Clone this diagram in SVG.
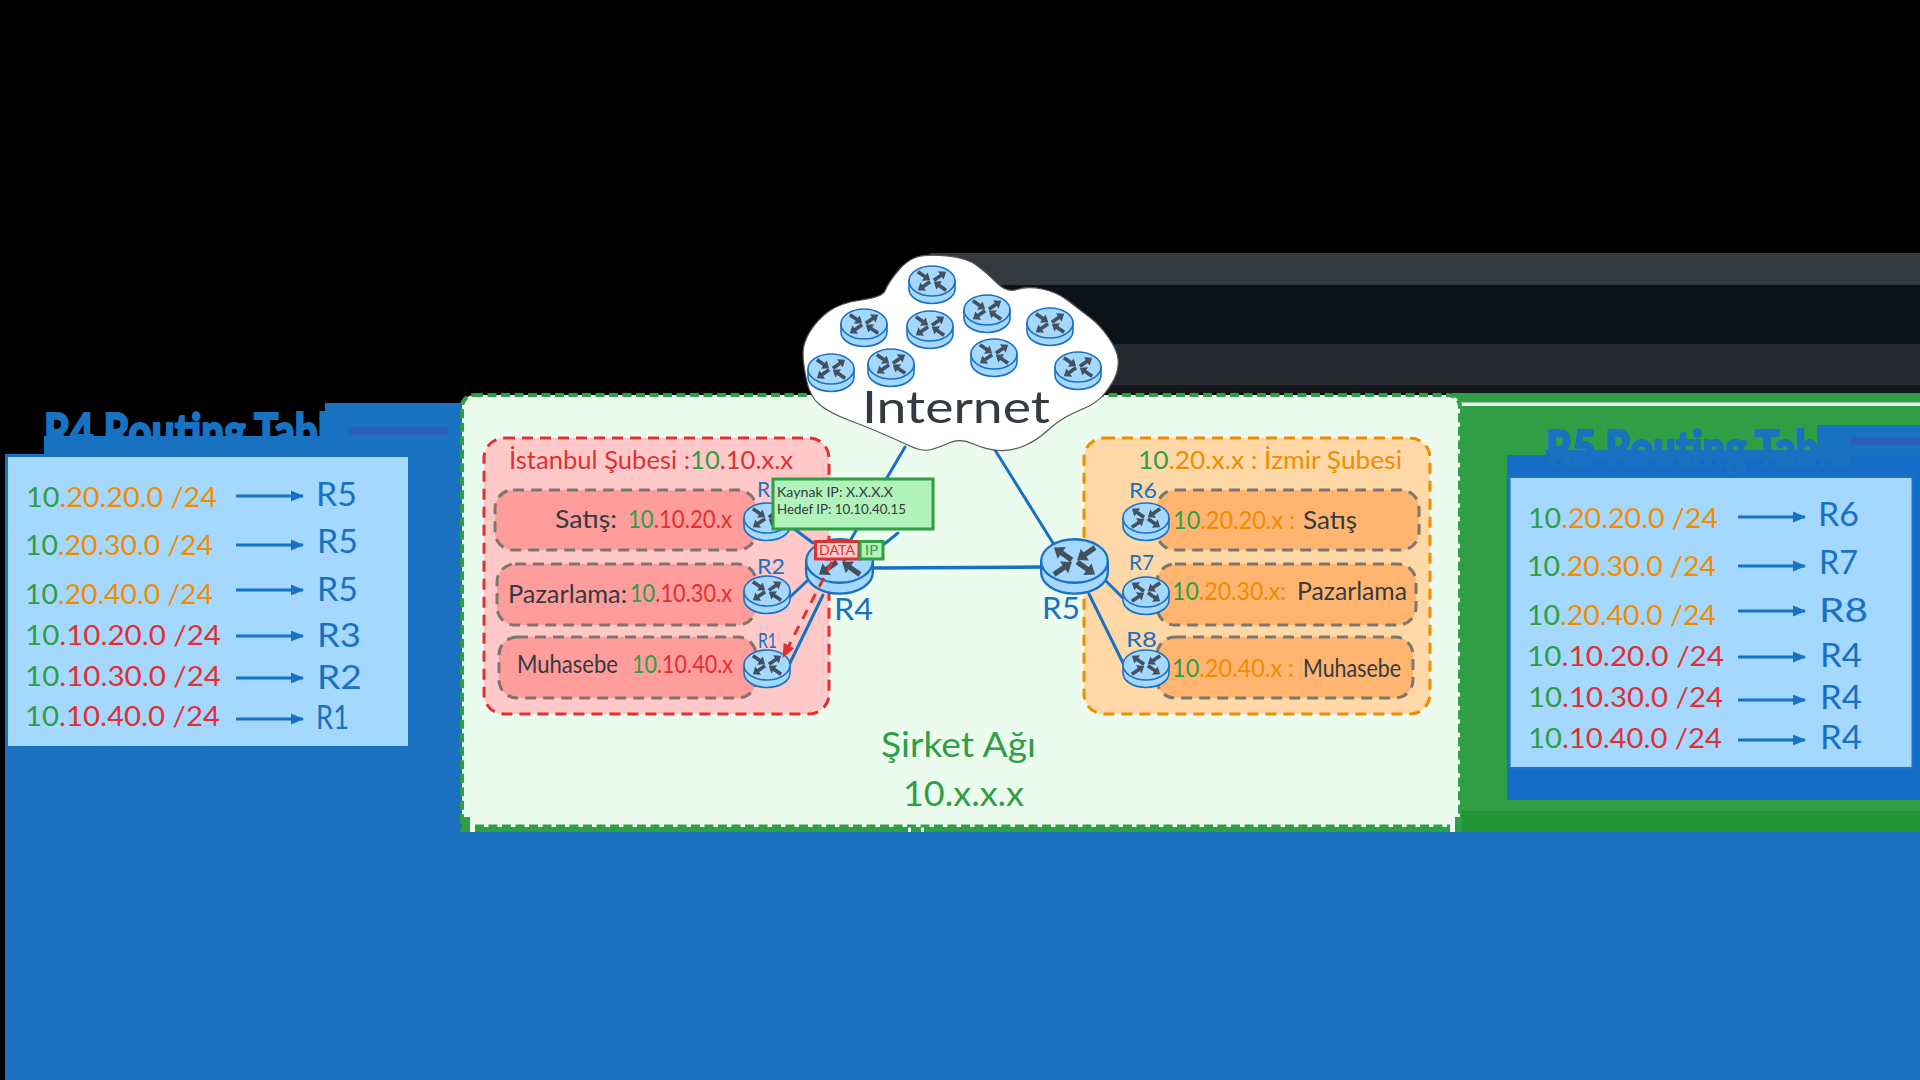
<svg xmlns="http://www.w3.org/2000/svg" width="1920" height="1080" viewBox="0 0 1920 1080">
<style>
text{font-family:"Lato","Noto Sans",sans-serif;}
.t{font-size:26px;transform:translate(0,1.500px);}
.rl{font-size:33px;fill:#1971c2;transform:translate(0,1px);}
.rs{font-size:21px;fill:#1971c2;}
.rb{font-size:31px;fill:#1971c2;}
.dk{fill:#343a40;}
.gr{fill:#2f9e44;}
.rd{fill:#e03131;}
.or{fill:#f08c00;}
.lab{font-size:25px;transform:translate(0,1.500px);}
.ttl{font-size:50px;font-weight:900;fill:#1971c2;stroke:#1971c2;stroke-width:2;}
.link{fill:none;stroke:#1971c2;stroke-width:3;stroke-linecap:round;}
.ra{fill:none;stroke:#1971c2;stroke-width:3;marker-end:url(#ba);}
.inner{stroke:#7d7670;stroke-width:3;stroke-dasharray:11 7;}
</style>
<defs>
<marker id="ba" markerUnits="userSpaceOnUse" markerWidth="14" markerHeight="14" refX="12" refY="7" orient="auto"><path d="M0 1.500L13 7L0 12.500Z" fill="#1971c2"/></marker>
<marker id="ra" markerUnits="userSpaceOnUse" markerWidth="16" markerHeight="16" refX="13" refY="8" orient="auto"><path d="M0 2L14 8L0 14Z" fill="#e03131"/></marker>
<path id="ah" d="M-7.500 -1.800L1 -1.800L1 -5L7.500 0L1 5L1 1.800L-7.500 1.800Z" fill="#43505e"/>
<g id="rt">
<path d="M-23 0V8A23 14.500 0 0 0 23 8V0Z" fill="#a5d8ff" stroke="#1971c2" stroke-width="1.600"/>
<ellipse rx="23" ry="15" fill="#a5d8ff" stroke="#1971c2" stroke-width="1.600"/>
<use href="#ah" transform="translate(-8,-5) rotate(35)"/>
<use href="#ah" transform="translate(8,-5) rotate(-35)"/>
<use href="#ah" transform="translate(-8,5) rotate(145)"/>
<use href="#ah" transform="translate(8,5) rotate(-145)"/>
</g>
</defs>

<rect width="1920" height="1080" fill="#000"/>
<g id="backdrop">
<rect x="930" y="253" width="990" height="32" fill="#343a40"/>
<rect x="930" y="285" width="990" height="59" fill="#0b1219"/>
<rect x="930" y="344" width="990" height="41" fill="#25282f"/>
<rect x="930" y="385" width="990" height="8" fill="#14171c"/>
<rect x="1452" y="393" width="468" height="439" fill="#2f9e44"/>
<rect x="1458" y="402.500" width="462" height="3.500" fill="#ebfbee"/>
<rect x="1461" y="811" width="459" height="21" fill="#229637"/>
<rect x="5" y="454" width="457" height="380" fill="#1b70c0"/>
<rect x="325" y="403" width="137" height="51" fill="#1971c2"/>
<rect x="349" y="427" width="99" height="8" fill="#2a5fc0"/>
<rect x="44" y="436" width="306" height="18" fill="#1971c2"/>
<rect x="1507" y="455" width="413" height="345" fill="#156cc6"/>
<rect x="1817" y="425" width="103" height="30" fill="#1971c2"/>
<rect x="1850" y="437" width="70" height="8" fill="#2a5fc0"/>
<rect x="1546" y="450" width="304" height="10" fill="#1971c2"/>
</g>

<g id="company-network">
<rect x="462" y="395" width="998" height="445" rx="12" fill="#ebfbee" stroke="#2f9e44" stroke-width="4" stroke-dasharray="9 4.500"/>
<rect x="475" y="827" width="433" height="5" fill="#2f9e44"/>
<rect x="911" y="827" width="10" height="5" fill="#2f9e44"/>
<rect x="924" y="827" width="526" height="5" fill="#2f9e44"/>
<path d="M475 826H1450" stroke="#2f9e44" stroke-width="3" stroke-dasharray="9 4.500" fill="none"/>
<rect x="462" y="817" width="8" height="15" fill="#2f9e44"/>
<rect x="1455" y="817" width="6" height="15" fill="#2f9e44"/>
<text x="881" y="757" textLength="155" lengthAdjust="spacingAndGlyphs" font-size="34" class="gr">Şirket Ağı</text>
<text x="903" y="806" textLength="121" lengthAdjust="spacingAndGlyphs" font-size="34" class="gr">10.x.x.x</text>
</g>

<g id="table-r4">
<text x="44" y="449" textLength="306" lengthAdjust="spacingAndGlyphs" class="ttl">R4 Routing Table</text>
<rect x="6.500" y="455.500" width="403" height="292" fill="#a5d8ff" stroke="#1971c2" stroke-width="3"/>
<text class="t or" x="26" y="505" textLength="191" lengthAdjust="spacingAndGlyphs"><tspan class="gr">10</tspan>.20.20.0 /24</text>
<text class="t or" x="25" y="553" textLength="188" lengthAdjust="spacingAndGlyphs"><tspan class="gr">10</tspan>.20.30.0 /24</text>
<text class="t or" x="25" y="602" textLength="188" lengthAdjust="spacingAndGlyphs"><tspan class="gr">10</tspan>.20.40.0 /24</text>
<text class="t rd" x="25" y="643" textLength="196" lengthAdjust="spacingAndGlyphs"><tspan class="gr">10</tspan>.10.20.0 /24</text>
<text class="t rd" x="25" y="684" textLength="196" lengthAdjust="spacingAndGlyphs"><tspan class="gr">10</tspan>.10.30.0 /24</text>
<text class="t rd" x="25" y="724" textLength="195" lengthAdjust="spacingAndGlyphs"><tspan class="gr">10</tspan>.10.40.0 /24</text>
<path class="ra" d="M236 496H303"/><path class="ra" d="M236 545H303"/><path class="ra" d="M236 590H303"/><path class="ra" d="M236 636H303"/><path class="ra" d="M236 678H303"/><path class="ra" d="M236 719H303"/>
<text class="rl" x="316" y="505" textLength="41" lengthAdjust="spacingAndGlyphs">R5</text>
<text class="rl" x="317" y="552" textLength="41" lengthAdjust="spacingAndGlyphs">R5</text>
<text class="rl" x="317" y="600" textLength="41" lengthAdjust="spacingAndGlyphs">R5</text>
<text class="rl" x="317" y="646" textLength="44" lengthAdjust="spacingAndGlyphs">R3</text>
<text class="rl" x="317" y="688" textLength="45" lengthAdjust="spacingAndGlyphs">R2</text>
<text class="rl" x="316" y="728" textLength="33" lengthAdjust="spacingAndGlyphs">R1</text>
</g>

<g id="table-r5">
<text x="1546" y="466" textLength="304" lengthAdjust="spacingAndGlyphs" class="ttl">R5 Routing Table</text>
<rect x="1509" y="476.500" width="404" height="292" fill="#a5d8ff" stroke="#1971c2" stroke-width="3"/>
<text class="t or" x="1528" y="526" textLength="190" lengthAdjust="spacingAndGlyphs"><tspan class="gr">10</tspan>.20.20.0 /24</text>
<text class="t or" x="1527" y="574" textLength="189" lengthAdjust="spacingAndGlyphs"><tspan class="gr">10</tspan>.20.30.0 /24</text>
<text class="t or" x="1527" y="623" textLength="189" lengthAdjust="spacingAndGlyphs"><tspan class="gr">10</tspan>.20.40.0 /24</text>
<text class="t rd" x="1527" y="664" textLength="197" lengthAdjust="spacingAndGlyphs"><tspan class="gr">10</tspan>.10.20.0 /24</text>
<text class="t rd" x="1528" y="705" textLength="195" lengthAdjust="spacingAndGlyphs"><tspan class="gr">10</tspan>.10.30.0 /24</text>
<text class="t rd" x="1528" y="746" textLength="194" lengthAdjust="spacingAndGlyphs"><tspan class="gr">10</tspan>.10.40.0 /24</text>
<path class="ra" d="M1738 517H1805"/><path class="ra" d="M1738 566H1805"/><path class="ra" d="M1738 611H1805"/><path class="ra" d="M1738 657H1805"/><path class="ra" d="M1738 700H1805"/><path class="ra" d="M1738 740H1805"/>
<text class="rl" x="1818" y="525" textLength="41" lengthAdjust="spacingAndGlyphs">R6</text>
<text class="rl" x="1819" y="573" textLength="39" lengthAdjust="spacingAndGlyphs">R7</text>
<text class="rl" x="1819" y="621" textLength="49" lengthAdjust="spacingAndGlyphs">R8</text>
<text class="rl" x="1820" y="666" textLength="42" lengthAdjust="spacingAndGlyphs">R4</text>
<text class="rl" x="1820" y="708" textLength="42" lengthAdjust="spacingAndGlyphs">R4</text>
<text class="rl" x="1820" y="748" textLength="42" lengthAdjust="spacingAndGlyphs">R4</text>
</g>

<g id="istanbul-branch">
<rect x="484" y="438" width="345" height="276" rx="20" fill="#ffc9c9" stroke="#e03131" stroke-width="3" stroke-dasharray="11 7"/>
<text class="lab rd" x="509" y="467" textLength="284" lengthAdjust="spacingAndGlyphs">İstanbul Şubesi :<tspan class="gr">10</tspan>.10.x.x</text>
<rect class="inner" x="495" y="490" width="261" height="60" rx="18" fill="#ff9c9c"/>
<rect class="inner" x="497" y="564" width="259" height="61" rx="18" fill="#ff9c9c"/>
<rect class="inner" x="499" y="637" width="257" height="61" rx="18" fill="#ff9c9c"/>
<text class="lab dk" x="555" y="526" textLength="62" lengthAdjust="spacingAndGlyphs">Satış:</text>
<text class="lab rd" x="628" y="526" textLength="104" lengthAdjust="spacingAndGlyphs"><tspan class="gr">10</tspan>.10.20.x</text>
<text class="lab dk" x="508" y="601" textLength="119" lengthAdjust="spacingAndGlyphs">Pazarlama:</text>
<text class="lab rd" x="630" y="600" textLength="102" lengthAdjust="spacingAndGlyphs"><tspan class="gr">10</tspan>.10.30.x</text>
<text class="lab dk" x="517" y="671" textLength="101" lengthAdjust="spacingAndGlyphs">Muhasebe</text>
<text class="lab rd" x="632" y="671" textLength="101" lengthAdjust="spacingAndGlyphs"><tspan class="gr">10</tspan>.10.40.x</text>
</g>

<g id="izmir-branch">
<rect x="1084" y="438" width="346" height="276" rx="20" fill="#ffd8a8" stroke="#f08c00" stroke-width="3" stroke-dasharray="11 7"/>
<text class="lab or" x="1138" y="467" textLength="264" lengthAdjust="spacingAndGlyphs"><tspan class="gr">10</tspan>.20.x.x : İzmir Şubesi</text>
<rect class="inner" x="1157" y="490" width="262" height="60" rx="18" fill="#ffb570"/>
<rect class="inner" x="1157" y="564" width="259" height="61" rx="18" fill="#ffb570"/>
<rect class="inner" x="1157" y="637" width="256" height="61" rx="18" fill="#ffb570"/>
<text class="lab or" x="1173" y="527" textLength="122" lengthAdjust="spacingAndGlyphs"><tspan class="gr">10</tspan>.20.20.x :</text>
<text class="lab dk" x="1303" y="527" textLength="54" lengthAdjust="spacingAndGlyphs">Satış</text>
<text class="lab or" x="1172" y="598" textLength="114" lengthAdjust="spacingAndGlyphs"><tspan class="gr">10</tspan>.20.30.x:</text>
<text class="lab dk" x="1297" y="598" textLength="110" lengthAdjust="spacingAndGlyphs">Pazarlama</text>
<text class="lab or" x="1172" y="675" textLength="122" lengthAdjust="spacingAndGlyphs"><tspan class="gr">10</tspan>.20.40.x :</text>
<text class="lab dk" x="1303" y="675" textLength="98" lengthAdjust="spacingAndGlyphs">Muhasebe</text>
</g>

<g id="connectors">
<path class="link" d="M905 447L850 541"/>
<path class="link" d="M995 450L1053 543"/>
<path class="link" d="M785 522L813 543"/>
<path class="link" d="M898 533L883 545"/>
<path class="link" d="M790 597L807 581"/>
<path class="link" d="M790 663L823 595"/>
<path class="link" style="stroke-width:3.500" d="M873 568L1041 567"/>
<path class="link" d="M1106 581L1123 598"/>
<path class="link" d="M1089 594L1123 663"/>
</g>

<g id="internet">
<path d="M947 256Q967 258 977 265.500Q987 273 997 283Q1007 293 1017 289.500Q1027 286 1042 289Q1057 292 1068.500 301Q1080 310 1090 317.500Q1100 325 1108.500 337.500Q1117 350 1118 358.500Q1119 367 1116 375Q1113 383 1105 393Q1097 403 1085 408Q1073 413 1065 417.500Q1057 422 1047 431Q1037 440 1025 445.500Q1013 451 1000 450.500Q987 450 973.500 444Q960 438 950 442.500Q940 447 931.500 449.500Q923 452 910 446Q897 440 882 433.500Q867 427 848.500 420Q830 413 820 405Q810 397 806.500 380Q803 363 803 353Q803 343 810 331.500Q817 320 828.500 311.500Q840 303 861.500 300Q883 297 885.500 290Q888 283 897.500 271.500Q907 260 917 257Q927 254 947 256Z" fill="#fff" stroke="#555" stroke-width="1.200"/>
<use href="#rt" x="932" y="281"/>
<use href="#rt" x="864" y="324"/>
<use href="#rt" x="930" y="326"/>
<use href="#rt" x="987" y="310"/>
<use href="#rt" x="1050" y="323"/>
<use href="#rt" x="831" y="369"/>
<use href="#rt" x="891" y="364"/>
<use href="#rt" x="994" y="354"/>
<use href="#rt" x="1078" y="367"/>
<text x="862" y="423" textLength="188" lengthAdjust="spacingAndGlyphs" font-size="44" class="dk">Internet</text>
</g>

<g id="R3"><use href="#rt" x="767" y="518"/><text class="rs" x="757" y="497">R3</text></g>
<g id="R2"><use href="#rt" x="767" y="591"/><text class="rs" x="757" y="574" textLength="28" lengthAdjust="spacingAndGlyphs">R2</text></g>
<g id="R1"><use href="#rt" x="767" y="665"/><text class="rs" x="758" y="648" textLength="19" lengthAdjust="spacingAndGlyphs">R1</text></g>
<g id="R4"><use href="#rt" transform="translate(839.500,561) scale(1.450)"/><text class="rb" x="834" y="620" textLength="39" lengthAdjust="spacingAndGlyphs">R4</text></g>
<g id="R5"><use href="#rt" transform="translate(1074.500,561) scale(-1.450,1.450)"/><text class="rb" x="1042" y="619" textLength="38" lengthAdjust="spacingAndGlyphs">R5</text></g>
<g id="R6"><use href="#rt" transform="translate(1146,518) scale(-1,1)"/><text class="rs" x="1129" y="498" textLength="28" lengthAdjust="spacingAndGlyphs">R6</text></g>
<g id="R7"><use href="#rt" transform="translate(1146,592) scale(-1,1)"/><text class="rs" x="1129" y="570" textLength="25" lengthAdjust="spacingAndGlyphs">R7</text></g>
<g id="R8"><use href="#rt" transform="translate(1146,665) scale(-1,1)"/><text class="rs" x="1126" y="647" textLength="31" lengthAdjust="spacingAndGlyphs">R8</text></g>

<g id="packet">
<rect x="773" y="479" width="160" height="50" fill="#b2f2bb" stroke="#2f9e44" stroke-width="3"/>
<text class="dk" x="777" y="497" font-size="13" textLength="116" lengthAdjust="spacingAndGlyphs">Kaynak IP: X.X.X.X</text>
<text class="dk" x="777" y="514" font-size="13" textLength="129" lengthAdjust="spacingAndGlyphs">Hedef IP: 10.10.40.15</text>
<rect x="815.500" y="541.500" width="43.500" height="17.500" fill="#ffc9c9" stroke="#e03131" stroke-width="3"/>
<text class="rd" x="819" y="555" font-size="13.500" textLength="36" lengthAdjust="spacingAndGlyphs">DATA</text>
<rect x="860" y="541.500" width="23" height="17.500" fill="#b2f2bb" stroke="#2f9e44" stroke-width="3"/>
<text class="gr" x="865" y="555" font-size="13.500" textLength="13" lengthAdjust="spacingAndGlyphs">IP</text>
</g>
<path id="packet-route" d="M832 562L783 657" fill="none" stroke="#e03131" stroke-width="3" stroke-dasharray="10 8" marker-end="url(#ra)"/>

<rect id="bottom-band" x="5" y="832" width="1915" height="248" fill="#1b70c0"/>
</svg>
